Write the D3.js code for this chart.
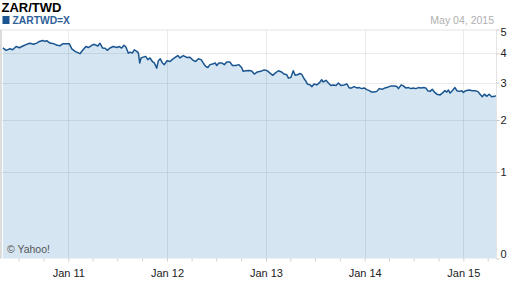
<!DOCTYPE html>
<meta charset="utf-8">

<!-- Load d3.js -->
<script src="https://d3js.org/d3.v7.min.js"></script>

<style>
  body {margin: 0; background: #fff;}
  svg {font-family: Arial, "Liberation Sans", sans-serif;}
</style>

<div id="my_dataviz"></div>

<script>

// chart texts
var title = "ZAR/TWD",
    symbol = "ZARTWD=X",
    asOf = "May 04, 2015",
    credit = "\u00a9 Yahoo!";

// x range of the chart and tick values
var startDate = "2010-05-04", endDate = "2015-05-04";
var yTicks = [0, 1, 2, 3, 4, 5];
var yGrid = [1, 2, 3, 4];

// ZAR/TWD close
var dates = [
  "2010-05-04","2010-05-16","2010-05-30","2010-06-09","2010-06-22","2010-07-04","2010-07-19","2010-07-31",
  "2010-08-12","2010-08-25","2010-09-06","2010-09-16","2010-09-28","2010-10-07","2010-10-13","2010-10-25",
  "2010-11-09","2010-11-21","2010-12-01","2010-12-11","2010-12-23","2011-01-05","2011-01-14","2011-01-26",
  "2011-02-07","2011-02-13","2011-02-23","2011-03-07","2011-03-16","2011-03-29","2011-04-07","2011-04-20",
  "2011-04-28","2011-05-08","2011-05-17","2011-05-25","2011-06-04","2011-06-16","2011-06-29","2011-07-09",
  "2011-07-17","2011-07-26","2011-08-02","2011-08-11","2011-08-17","2011-08-26","2011-09-02","2011-09-11",
  "2011-09-17","2011-09-22","2011-09-27","2011-10-05","2011-10-14","2011-10-22","2011-10-30","2011-11-08",
  "2011-11-15","2011-11-24","2011-11-30","2011-12-07","2011-12-15","2011-12-22","2012-01-01","2012-01-12",
  "2012-01-21","2012-01-31","2012-02-10","2012-02-18","2012-03-01","2012-03-14","2012-03-26","2012-04-07",
  "2012-04-16","2012-04-26","2012-05-06","2012-05-14","2012-05-23","2012-05-31","2012-06-08","2012-06-17",
  "2012-06-27","2012-07-03","2012-07-11","2012-07-21","2012-07-31","2012-08-09","2012-08-21","2012-08-30",
  "2012-09-11","2012-09-23","2012-10-03","2012-10-09","2012-10-18","2012-10-30","2012-11-09","2012-11-19",
  "2012-11-30","2012-12-13","2012-12-25","2013-01-06","2013-01-16","2013-01-26","2013-02-04","2013-02-16",
  "2013-02-28","2013-03-09","2013-03-19","2013-03-25","2013-04-03","2013-04-12","2013-04-19","2013-04-27",
  "2013-05-07","2013-05-14","2013-05-22","2013-05-29","2013-06-03","2013-06-13","2013-06-20","2013-06-28",
  "2013-07-08","2013-07-17","2013-07-26","2013-08-01","2013-08-11","2013-08-20","2013-08-29","2013-09-07",
  "2013-09-17","2013-09-26","2013-10-05","2013-10-17","2013-10-27","2013-11-05","2013-11-14","2013-11-23",
  "2013-12-03","2013-12-12","2013-12-21","2013-12-30","2014-01-09","2014-01-18","2014-01-27","2014-02-05",
  "2014-02-15","2014-02-24","2014-03-07","2014-03-17","2014-03-30","2014-04-09","2014-04-21","2014-04-30",
  "2014-05-06","2014-05-16","2014-05-24","2014-06-02","2014-06-12","2014-06-22","2014-06-30","2014-07-09",
  "2014-07-19","2014-07-29","2014-08-06","2014-08-15","2014-08-22","2014-08-31","2014-09-08","2014-09-16",
  "2014-09-25","2014-10-07","2014-10-15","2014-10-25","2014-11-01","2014-11-07","2014-11-13","2014-11-21",
  "2014-12-01","2014-12-08","2014-12-16","2014-12-26","2015-01-01","2015-01-10","2015-01-22","2015-02-03",
  "2015-02-13","2015-02-23","2015-03-04","2015-03-12","2015-03-20","2015-03-29","2015-04-06","2015-04-16",
  "2015-04-26","2015-05-04"
];
var values = [
  4.22,4.12,4.18,4.14,4.27,4.22,4.30,4.36,
  4.40,4.36,4.41,4.48,4.52,4.48,4.51,4.41,
  4.38,4.32,4.30,4.38,4.38,4.38,4.18,4.08,
  4.02,3.99,4.12,4.27,4.23,4.32,4.36,4.29,
  4.40,4.21,4.20,4.12,4.21,4.27,4.23,4.27,
  4.21,4.32,4.25,4.01,4.05,4.02,4.14,4.08,
  4.02,3.65,3.83,3.86,3.89,3.77,3.83,3.70,
  3.65,3.47,3.73,3.80,3.65,3.59,3.73,3.70,
  3.78,3.85,3.92,3.83,3.92,3.85,3.86,3.74,
  3.70,3.80,3.77,3.65,3.53,3.49,3.59,3.61,
  3.65,3.56,3.65,3.65,3.59,3.68,3.68,3.56,
  3.56,3.59,3.49,3.36,3.38,3.39,3.37,3.27,
  3.34,3.36,3.41,3.38,3.30,3.23,3.30,3.38,
  3.34,3.27,3.25,3.14,3.16,3.38,3.23,3.25,
  3.29,3.25,3.12,3.04,2.96,2.93,2.88,2.96,
  2.93,2.99,3.09,3.02,3.07,2.99,2.91,2.93,
  2.91,2.99,2.91,2.93,2.96,2.84,2.84,2.88,
  2.84,2.85,2.82,2.84,2.79,2.76,2.72,2.72,
  2.74,2.82,2.80,2.84,2.87,2.90,2.90,2.88,
  2.82,2.93,2.90,2.84,2.85,2.82,2.84,2.82,
  2.85,2.84,2.85,2.84,2.76,2.74,2.80,2.72,
  2.66,2.64,2.69,2.76,2.72,2.78,2.69,2.76,
  2.85,2.76,2.74,2.76,2.71,2.76,2.78,2.76,
  2.76,2.74,2.66,2.59,2.66,2.60,2.66,2.59,
  2.60,2.62
];

var parseDate = d3.timeParse("%Y-%m-%d");
var data = dates.map(function(d, i) { return {date: parseDate(d), value: values[i]}; });

var width = 512, height = 288;
var plot = {left: 2, right: 496.5, top: 29.5, bottom: 258.5};

var svg = d3.select("#my_dataviz")
  .append("svg")
    .attr("width", width)
    .attr("height", height);

// scales
var x = d3.scaleTime()
  .domain([parseDate(startDate), parseDate(endDate)])
  .range([2.9, 496.6]);

var y = d3.scaleSymlog()
  .constant(1.1)
  .domain([0, 5])
  .range([plot.bottom, plot.top]);

// Area + line
var area = d3.area()
  .x(function(d) { return x(d.date); })
  .y0(y(0))
  .y1(function(d) { return y(d.value); });

var line = d3.line()
  .x(function(d) { return x(d.date); })
  .y(function(d) { return y(d.value); });

svg.append("path")
  .datum(data)
  .attr("d", area)
  .attr("fill", "#d5e6f2");

// grid
var years = d3.timeYear.range(parseDate(startDate), parseDate(endDate));
svg.selectAll("vgrid")
  .data(years)
  .enter()
  .append("line")
    .attr("x1", function(d) { return Math.round(x(d)) + 0.5; })
    .attr("x2", function(d) { return Math.round(x(d)) + 0.5; })
    .attr("y1", plot.top)
    .attr("y2", plot.bottom)
    .attr("stroke", "#000")
    .attr("stroke-opacity", 0.08);

svg.selectAll("hgrid")
  .data(yGrid)
  .enter()
  .append("line")
    .attr("x1", plot.left)
    .attr("x2", plot.right)
    .attr("y1", function(d) { return Math.round(y(d)) + 0.5; })
    .attr("y2", function(d) { return Math.round(y(d)) + 0.5; })
    .attr("stroke", "#000")
    .attr("stroke-opacity", 0.08);

svg.append("path")
  .datum(data)
  .attr("d", line)
  .attr("fill", "none")
  .attr("stroke", "#1b5591")
  .attr("stroke-width", 1.5)
  .attr("stroke-linejoin", "round");

// plot frame
svg.append("line")
  .attr("x1", plot.left).attr("x2", plot.right)
  .attr("y1", plot.top + 0.5).attr("y2", plot.top + 0.5)
  .attr("stroke", "#e3e3e3");
svg.append("line")
  .attr("x1", plot.right).attr("x2", plot.right)
  .attr("y1", plot.top).attr("y2", plot.bottom)
  .attr("stroke", "#e3e3e3");
svg.append("rect")
  .attr("x", 0).attr("y", plot.top)
  .attr("width", 2).attr("height", plot.bottom - plot.top)
  .attr("fill", "#dcdcdc");

// X axis: quarterly ticks, labels on January
var xAxis = svg.append("g")
  .attr("transform", "translate(0," + plot.bottom + ")")
  .call(d3.axisBottom(x)
    .ticks(d3.timeMonth.every(3))
    .tickSize(3)
    .tickFormat(function(d) { return d.getMonth() === 0 ? d3.timeFormat("%b %y")(d) : ""; }));
xAxis.select(".domain").remove();
xAxis.selectAll(".tick line").attr("stroke", "#d0d0d0");
xAxis.selectAll(".tick text")
  .attr("y", 11)
  .attr("fill", "#222")
  .style("font-size", "11px");

// Y axis on the right, labels kept inside the plot height
var yAxis = svg.append("g")
  .attr("transform", "translate(" + plot.right + ",0)")
  .call(d3.axisRight(y)
    .tickValues(yTicks)
    .tickSize(3)
    .tickFormat(d3.format("d")));
yAxis.select(".domain").remove();
yAxis.selectAll(".tick line").attr("stroke", "#c8c8c8");
yAxis.selectAll(".tick text")
  .attr("x", 4)
  .attr("fill", "#222")
  .style("font-size", "11px")
  .attr("dy", function(d) { return d === 0 ? "-0.05em" : d === 5 ? "0.55em" : "0.32em"; });

// header
svg.append("text")
  .attr("x", 1.5).attr("y", 11.5)
  .attr("font-size", "13px")
  .attr("font-weight", "bold")
  .attr("fill", "#000")
  .text(title);

svg.append("rect")
  .attr("x", 2.5).attr("y", 16)
  .attr("width", 7).attr("height", 8)
  .attr("fill", "#1b5591");

svg.append("text")
  .attr("x", 12.5).attr("y", 24)
  .attr("font-size", "10.3px")
  .attr("font-weight", "bold")
  .attr("fill", "#2e6098")
  .text(symbol);

svg.append("text")
  .attr("x", 494).attr("y", 23.5)
  .attr("text-anchor", "end")
  .attr("font-size", "10.5px")
  .attr("fill", "#b0b0b0")
  .text(asOf);

svg.append("text")
  .attr("x", 7).attr("y", 253)
  .attr("font-size", "10.5px")
  .attr("fill", "#555")
  .text(credit);

</script>
